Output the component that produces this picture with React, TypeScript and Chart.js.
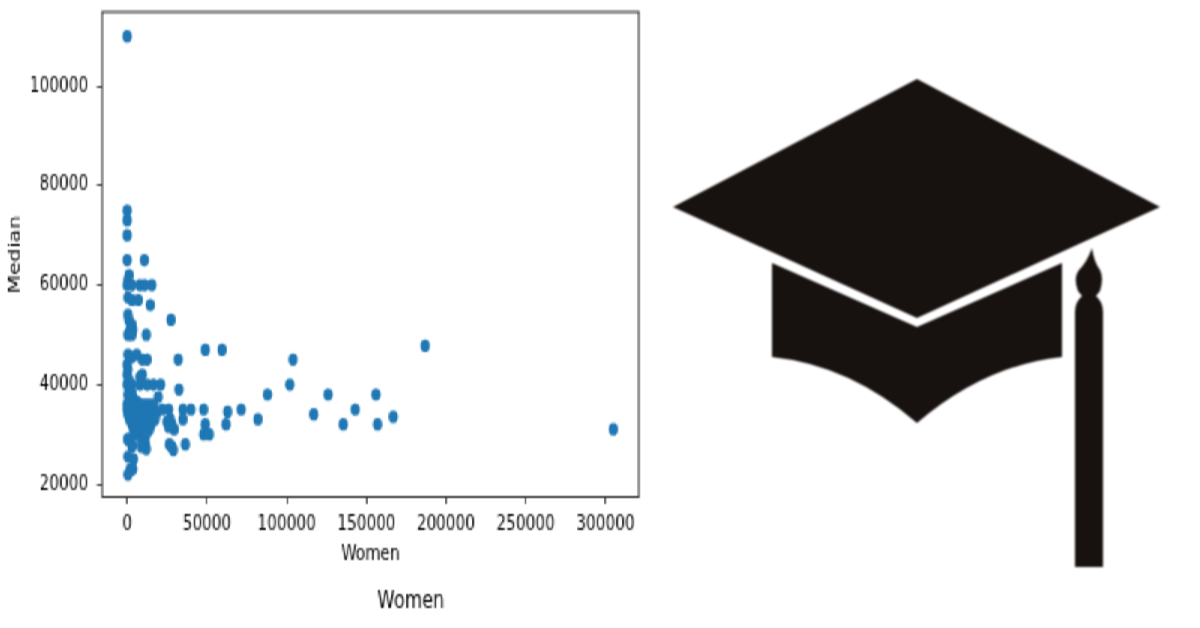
import React, { useEffect, useRef } from "react";
import { Chart, registerables } from "chart.js";

Chart.register(...registerables);

const womenOuter = [305000, 187000, 167000, 156000, 157000, 143000, 135500, 126000, 117000, 104000, 102000, 88000, 82000, 71500, 63000, 62000, 59500, 49000, 48000, 49000, 48000, 51500, 40000, 35000, 32000, 27500, 32500, 36500, 26500, 29000, 28000, 29500, 35000, 27000, 28000, 25000, 26000, 22000, 26000, 19500];
const medianOuter = [31000, 47800, 33500, 38000, 32000, 35000, 32000, 38000, 34000, 45000, 40000, 38000, 33000, 35000, 34500, 32000, 47000, 47000, 35000, 32000, 30000, 30000, 35000, 35000, 45000, 53000, 39000, 28000, 28000, 26800, 27500, 31000, 33000, 33000, 32000, 32500, 31500, 35000, 35000, 37500];

const womenTop = [0, 0, 0, 0, 10800, 0, 1200, 500, 0, 3000, 8000, 11000, 15500, 500, 3000, 7000, 14500, 500, 1000, 3000, 2000, 1500, 3500, 500, 3000, 12000];
const medianTop = [110000, 75000, 73000, 70000, 65000, 65000, 62000, 61000, 60000, 60000, 60000, 60000, 60000, 57500, 57000, 57000, 56000, 54000, 53000, 52000, 51000, 50500, 51000, 50000, 50000, 50000];

const womenMid = [500, 3000, 6000, 9500, 12500, 0, 500, 0, 9500, 0, 3000, 8000, 12500, 16500, 21000, 1000, 2000, 500, 3000, 8000];
const medianMid = [46000, 45500, 46000, 45000, 45000, 44000, 43000, 42000, 42000, 40000, 40000, 40000, 40000, 40000, 40000, 41000, 39000, 38000, 38500, 41500];

const womenDense = [0, 500, 1500, 3000, 5000, 7000, 9000, 11000, 13000, 15000, 17000, 0, 1000, 2500, 4500, 6500, 8500, 10500, 12500, 14500, 16500, 500, 2000, 4000, 6000, 8000, 10000, 12000, 14000, 16000, 18000, 1500, 3500, 5500, 7500, 9500, 11500, 13500, 15500, 17500, 3000, 5000, 7000, 9000, 11000, 13000, 15000, 4000, 6000, 8000, 10000, 12000, 14000, 500, 2500, 7000, 9500, 12000, 9000, 11500, 3000, 500, 3000, 500, 4000, 2000, 3500];
const medianDense = [35000, 35000, 35000, 35000, 35000, 35000, 35000, 35000, 35000, 35000, 35000, 36000, 37000, 36000, 37000, 36500, 36000, 36000, 36000, 36000, 36000, 34000, 34000, 34000, 34000, 34000, 34000, 34000, 34000, 34000, 34000, 33000, 33000, 33000, 33000, 33000, 33000, 33000, 33000, 33000, 32000, 32000, 32000, 32000, 32000, 32000, 32000, 31000, 31000, 31000, 31000, 31000, 31000, 29000, 29000, 30000, 30000, 30000, 28500, 28000, 28000, 29000, 27500, 25500, 25000, 23000, 23000];

const womenLow = [12000, 9000, 3000, 500];
const medianLow = [27000, 27500, 23000, 21900];

const womenAll = [...womenOuter, ...womenTop, ...womenMid, ...womenDense, ...womenLow];
const medianAll = [...medianOuter, ...medianTop, ...medianMid, ...medianDense, ...medianLow];

const xTicks = [0, 50000, 100000, 150000, 200000, 250000, 300000];
const yTicks = [20000, 40000, 60000, 80000, 100000];
const captionText = "Women";

const FONT = "'DejaVu Sans', sans-serif";

const frame = {
  id: "frame",
  afterDraw(chart: any) {
    const { ctx, chartArea: a } = chart;
    ctx.save();
    ctx.strokeStyle = "#1a1a1a";
    ctx.lineWidth = 0.9;
    ctx.strokeRect(a.left, a.top, a.right - a.left, a.bottom - a.top);
    ctx.fillStyle = "#000000";
    ctx.font = `11.9px ${FONT}`;
    ctx.textAlign = "center";
    ctx.textBaseline = "middle";
    ctx.fillText(captionText, (a.left + a.right) / 2 + 27, a.bottom + 52);
    ctx.restore();
  },
};

export default function App() {
  const ref = useRef<HTMLCanvasElement>(null);

  useEffect(() => {
    document.body.style.margin = "0";
    const chart = new Chart(ref.current!, {
      type: "scatter",
      data: {
        datasets: [
          {
            data: womenAll.map((x, i) => ({ x, y: medianAll[i] })),
            backgroundColor: "#1f77b4",
            borderColor: "#1f77b4",
            borderWidth: 0,
            pointRadius: 3.1,
            pointHoverRadius: 3.1,
          },
        ],
      },
      options: {
        animation: false,
        responsive: false,
        devicePixelRatio: 1,
        layout: { padding: { left: 4, right: 7, top: 6, bottom: 30 } },
        plugins: { legend: { display: false }, tooltip: { enabled: false } },
        scales: {
          x: {
            type: "linear",
            min: -15700,
            max: 321000,
            grid: { display: true, drawOnChartArea: false, tickLength: 3.5, tickColor: "#1a1a1a", tickWidth: 0.8 },
            border: { display: false },
            afterFit(s: any) { s.height = 35.5; s.paddingLeft = 0; s.paddingRight = 0; },
            afterBuildTicks(s: any) { s.ticks = xTicks.map((value) => ({ value })); },
            ticks: { color: "#000000", font: { family: FONT, size: 10.2 }, maxRotation: 0, autoSkip: false, padding: 4, callback: (v: any) => String(v) },
            title: { display: true, text: "Women", color: "#000000", font: { family: FONT, size: 10.4 }, padding: { top: 0, bottom: 0 } },
          },
          y: {
            type: "linear",
            min: 17400,
            max: 114900,
            grid: { display: true, drawOnChartArea: false, tickLength: 3.5, tickColor: "#1a1a1a", tickWidth: 0.8 },
            border: { display: false },
            afterFit(s: any) { s.width = 64; s.paddingTop = 0; s.paddingBottom = 0; },
            afterBuildTicks(s: any) { s.ticks = yTicks.map((value) => ({ value })); },
            ticks: { color: "#000000", font: { family: FONT, size: 10.2 }, padding: 5.8, autoSkip: false, callback: (v: any) => String(v) },
            title: { display: true, text: "Median", color: "#000000", font: { family: FONT, size: 10.7 }, padding: { top: 0, bottom: 0 } },
          },
        },
      },
      plugins: [frame],
    });
    return () => chart.destroy();
  }, []);

  return (
    <div style={{ position: "relative", width: 1200, height: 628, background: "#fff", overflow: "hidden" }}>
      <div style={{ position: "absolute", left: 0, top: 0, width: 650, height: 628, filter: "blur(0.5px)" }}>
        <div style={{ width: 433, height: 314, transform: "scale(1.5, 2)", transformOrigin: "0 0" }}>
          <canvas ref={ref} width={433} height={314} />
        </div>
      </div>
      <svg width={1200} height={628} style={{ position: "absolute", left: 0, top: 0, filter: "blur(0.8px)" }}>
        <path fill="#17110f" d="M917 79 L1160 207 L917 318 L673 207 Z" />
        <path fill="#17110f" d="M772 263 L917 327 L1062 263 L1062 357 Q985 365 917 423 Q850 365 772 357 Z" />
        <path fill="#17110f" d="M1092 248 Q1094 262 1100 270 Q1104 278 1100 291 L1096 296 Q1103 302 1103 312 L1103 567 L1075 567 L1075 312 Q1075 302 1082 296 L1078 291 Q1073 278 1079 270 Q1087 262 1092 248 Z" />
      </svg>
    </div>
  );
}
